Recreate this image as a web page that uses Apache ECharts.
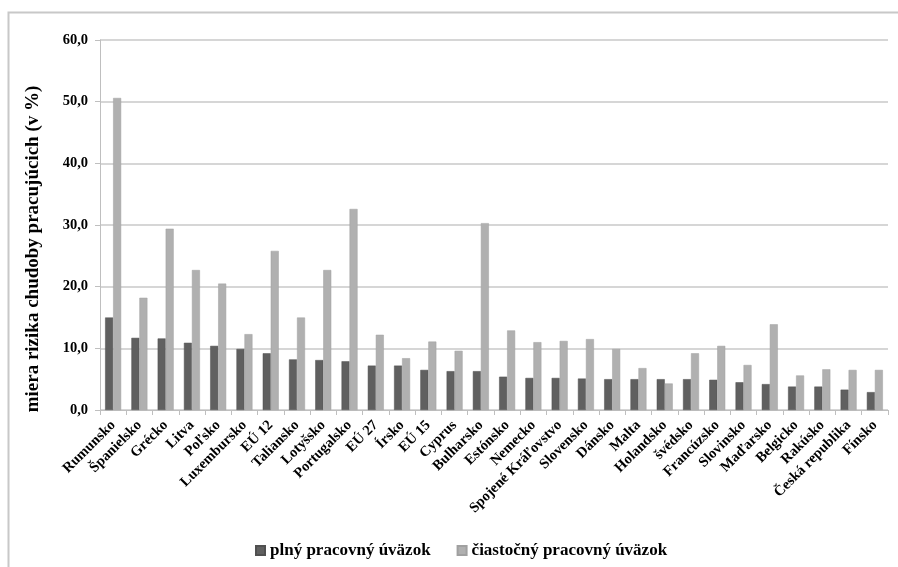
<!DOCTYPE html>
<html><head><meta charset="utf-8">
<script src="https://cdn.jsdelivr.net/npm/echarts@6/dist/echarts.min.js"></script>
<style>html,body{margin:0;padding:0;background:#fff}#c{width:898px;height:567px}</style>
</head><body><div id="c"></div>
<script>
const categories = ["Rumunsko","Španielsko","Grécko","Litva","Poľsko","Luxembursko","EÚ 12","Taliansko","Lotyšsko","Portugalsko","EÚ 27","Írsko","EÚ 15","Cyprus","Bulharsko","Estónsko","Nemecko","Spojené Kráľovstvo","Slovensko","Dánsko","Malta","Holandsko","švédsko","Francúzsko","Slovinsko","Maďarsko","Belgicko","Rakúsko","Česká republika","Fínsko"];
const fullTime = [15.0,11.7,11.6,10.9,10.4,9.9,9.2,8.2,8.1,7.9,7.2,7.2,6.5,6.3,6.3,5.4,5.2,5.2,5.1,5.0,5.0,5.0,5.0,4.9,4.5,4.2,3.8,3.8,3.3,2.9];
const partTime = [50.6,18.2,29.4,22.7,20.5,12.3,25.8,15.0,22.7,32.6,12.2,8.4,11.1,9.6,30.3,12.9,11.0,11.2,11.5,9.9,6.8,4.3,9.2,10.4,7.3,13.9,5.6,6.6,6.5,6.5];
const seriesNames = ["plný pracovný úväzok","čiastočný pracovný úväzok"];
const yAxisTitle = "miera rizika chudoby pracujúcich (v %)";
const yTicks = {min:0, max:60, interval:10};

const FONT = '"Liberation Serif","Times New Roman",serif';
const chart = echarts.init(document.getElementById('c'));
chart.setOption({
  animation:false,
  backgroundColor:'#fff',
  graphic:[
    {type:'rect',left:6,top:10,shape:{width:910,height:600},style:{fill:'none',stroke:'#c8c8c8',lineWidth:2},silent:true},
    {type:'text',x:33,y:249,rotation:Math.PI/2,
     style:{text:yAxisTitle,font:'bold 19px '+FONT,fill:'#000',align:'center',verticalAlign:'middle'},silent:true}
  ],
  grid:{left:100,right:10,top:40,bottom:157},
  legend:{
    bottom:3,left:250,itemWidth:9,itemHeight:9,itemGap:26,
    textStyle:{fontFamily:FONT,fontWeight:'bold',fontSize:17,color:'#000'},
    icon:'rect',data:seriesNames
  },
  xAxis:{
    type:'category',data:categories,
    axisLine:{lineStyle:{color:'#bfbfbf',width:1}},
    axisTick:{show:true,alignWithLabel:false,length:5,lineStyle:{color:'#bfbfbf'}},
    axisLabel:{rotate:45,interval:0,fontFamily:FONT,fontWeight:'bold',fontSize:14.5,color:'#000',margin:13}
  },
  yAxis:{
    type:'value',min:yTicks.min,max:yTicks.max,interval:yTicks.interval,
    axisLine:{show:true,lineStyle:{color:'#bfbfbf'}},
    axisTick:{show:true,length:5,lineStyle:{color:'#bfbfbf'}},
    splitLine:{lineStyle:{color:'#c8c8c8',width:1.5}},
    axisLabel:{fontFamily:FONT,fontWeight:'bold',fontSize:14.5,color:'#000',margin:12,
      formatter:v=>v.toFixed(1).replace('.',',')}
  },
  series:[
    {name:seriesNames[0],type:'bar',data:fullTime,barWidth:8,barGap:'0%',
     itemStyle:{color:'#606060',borderColor:'#505050',borderWidth:0.5}},
    {name:seriesNames[1],type:'bar',data:partTime,barWidth:8,
     itemStyle:{color:'#b0b0b0',borderColor:'#a0a0a0',borderWidth:0.5}}
  ]
});
</script></body></html>
